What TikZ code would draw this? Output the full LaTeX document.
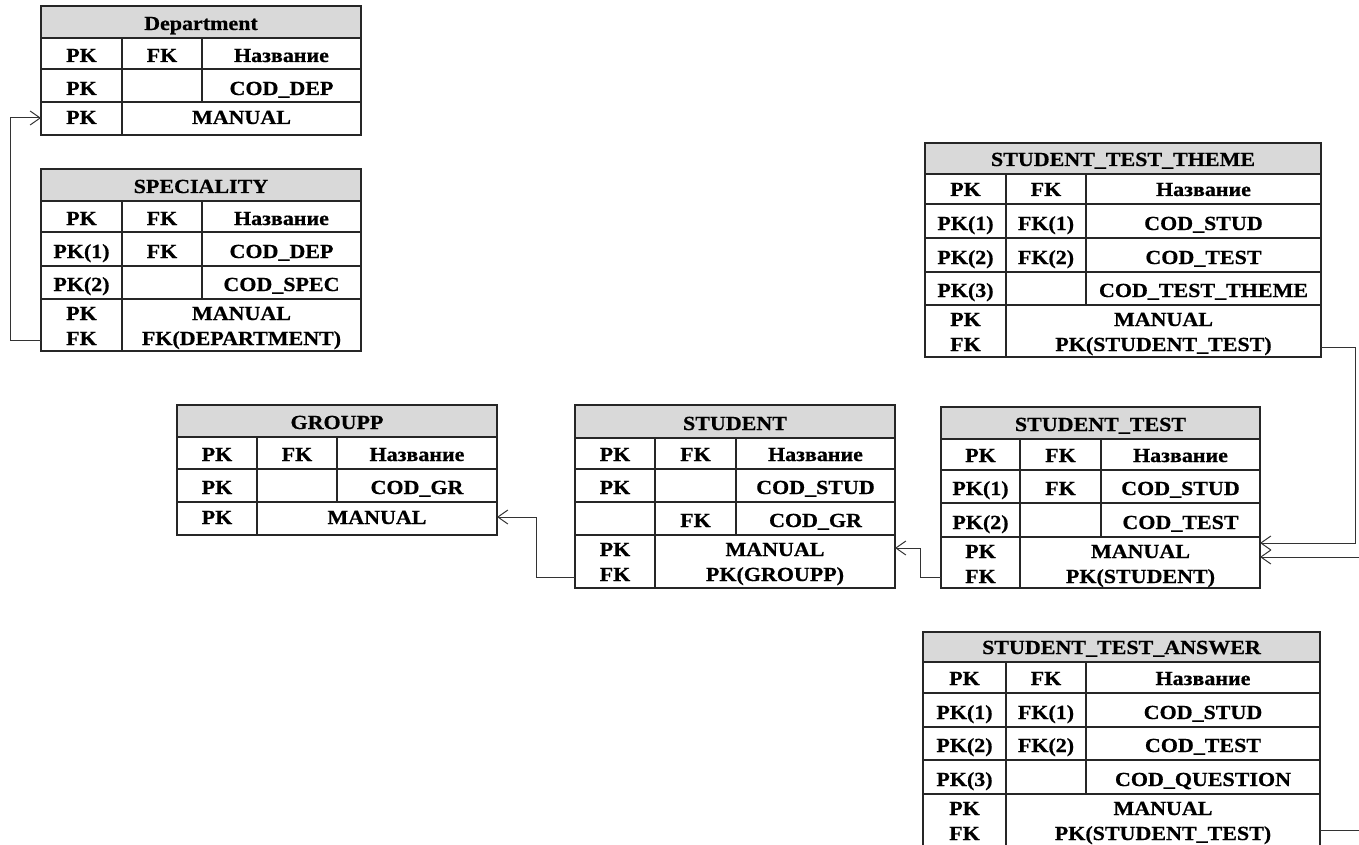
\documentclass[tikz,border=0pt]{standalone}
\usepackage{fontspec}
\setmainfont{Liberation Serif}[FakeStretch=1.1,FakeBold=0.6]
\usetikzlibrary{arrows.meta}

\begin{document}
\begin{tikzpicture}[x=1pt,y=-1pt,
    tab/.style={line width=1.3pt,draw=black!85},
    head/.style={fill=black!15},
    cell/.style={font=\fontsize{20}{24}\selectfont\bfseries,anchor=base,inner sep=0pt},
    link/.style={line width=1pt,draw=black!80},
    tip/.style={-{Straight Barb[length=10pt,width=14pt]}}]
    \useasboundingbox (0,0) rectangle (1359,845);
    \clip (0,0) rectangle (1359,845);

    % Department
    \fill[head] (41,6) rectangle (361,38);
    \draw[tab] (41,6) rectangle (361,135);
    \draw[tab] (41,38) -- (361,38) (41,69) -- (361,69) (41,102) -- (361,102);
    \draw[tab] (122,38) -- (122,135) (202,38) -- (202,102);
    \node[cell] (dep-title) at (201,30) {Department};
    \node[cell] (dep-pk) at (81.5,62) {PK};
    \node[cell] (dep-fk) at (162,62) {FK};
    \node[cell] (dep-name) at (281.5,62) {Название};
    \node[cell] (dep-pk1) at (81.5,95) {PK};
    \node[cell] (dep-cod) at (281.5,95) {COD\_DEP};
    \node[cell] (dep-pk2) at (81.5,124) {PK};
    \node[cell] (dep-man) at (241.5,124) {MANUAL};
    \coordinate (dep-in) at (41,118);

    % SPECIALITY
    \fill[head] (41,169) rectangle (361,201);
    \draw[tab] (41,169) rectangle (361,351);
    \draw[tab] (41,201) -- (361,201) (41,232) -- (361,232) (41,266) -- (361,266) (41,299) -- (361,299);
    \draw[tab] (122,201) -- (122,351) (202,201) -- (202,299);
    \node[cell] (spec-title) at (201,193) {SPECIALITY};
    \node[cell] (spec-pk) at (81.5,225) {PK};
    \node[cell] (spec-fk) at (162,225) {FK};
    \node[cell] (spec-name) at (281.5,225) {Название};
    \node[cell] (spec-pk1) at (81.5,258) {PK(1)};
    \node[cell] (spec-fk1) at (162,258) {FK};
    \node[cell] (spec-cod1) at (281.5,258) {COD\_DEP};
    \node[cell] (spec-pk2) at (81.5,291) {PK(2)};
    \node[cell] (spec-cod2) at (281.5,291) {COD\_SPEC};
    \node[cell] (spec-pk3) at (81.5,320) {PK};
    \node[cell] (spec-fk3) at (81.5,345) {FK};
    \node[cell] (spec-man) at (241.5,320) {MANUAL};
    \node[cell] (spec-ref) at (241.5,345) {FK(DEPARTMENT)};
    \coordinate (spec-out) at (41,340);

    % GROUPP
    \fill[head] (177,405) rectangle (497,437);
    \draw[tab] (177,405) rectangle (497,535);
    \draw[tab] (177,437) -- (497,437) (177,469) -- (497,469) (177,502) -- (497,502);
    \draw[tab] (257,437) -- (257,535) (337,437) -- (337,502);
    \node[cell] (gr-title) at (337,429) {GROUPP};
    \node[cell] (gr-pk) at (217,461) {PK};
    \node[cell] (gr-fk) at (297,461) {FK};
    \node[cell] (gr-name) at (417,461) {Название};
    \node[cell] (gr-pk1) at (217,494) {PK};
    \node[cell] (gr-cod) at (417,494) {COD\_GR};
    \node[cell] (gr-pk2) at (217,524) {PK};
    \node[cell] (gr-man) at (377,524) {MANUAL};
    \coordinate (gr-in) at (497,517);

    % STUDENT
    \fill[head] (575,405) rectangle (895,438);
    \draw[tab] (575,405) rectangle (895,588);
    \draw[tab] (575,438) -- (895,438) (575,469) -- (895,469) (575,502) -- (895,502) (575,535) -- (895,535);
    \draw[tab] (655,438) -- (655,588) (736,438) -- (736,535);
    \node[cell] (st-title) at (735,430) {STUDENT};
    \node[cell] (st-pk) at (615,461) {PK};
    \node[cell] (st-fk) at (695.5,461) {FK};
    \node[cell] (st-name) at (815.5,461) {Название};
    \node[cell] (st-pk1) at (615,494) {PK};
    \node[cell] (st-cod1) at (815.5,494) {COD\_STUD};
    \node[cell] (st-fk2) at (695.5,527) {FK};
    \node[cell] (st-cod2) at (815.5,527) {COD\_GR};
    \node[cell] (st-pk3) at (615,556) {PK};
    \node[cell] (st-fk3) at (615,581) {FK};
    \node[cell] (st-man) at (775,556) {MANUAL};
    \node[cell] (st-ref) at (775,581) {PK(GROUPP)};
    \coordinate (st-in) at (895,548);
    \coordinate (st-out) at (575,577);

    % STUDENT_TEST
    \fill[head] (941,407) rectangle (1260,439);
    \draw[tab] (941,407) rectangle (1260,588);
    \draw[tab] (941,439) -- (1260,439) (941,470) -- (1260,470) (941,503) -- (1260,503) (941,537) -- (1260,537);
    \draw[tab] (1020,439) -- (1020,588) (1101,439) -- (1101,537);
    \node[cell] (te-title) at (1100.5,431) {STUDENT\_TEST};
    \node[cell] (te-pk) at (980.5,462) {PK};
    \node[cell] (te-fk) at (1060.5,462) {FK};
    \node[cell] (te-name) at (1180.5,462) {Название};
    \node[cell] (te-pk1) at (980.5,495) {PK(1)};
    \node[cell] (te-fk1) at (1060.5,495) {FK};
    \node[cell] (te-cod1) at (1180.5,495) {COD\_STUD};
    \node[cell] (te-pk2) at (980.5,529) {PK(2)};
    \node[cell] (te-cod2) at (1180.5,529) {COD\_TEST};
    \node[cell] (te-pk3) at (980.5,558) {PK};
    \node[cell] (te-fk3) at (980.5,583) {FK};
    \node[cell] (te-man) at (1140.5,558) {MANUAL};
    \node[cell] (te-ref) at (1140.5,583) {PK(STUDENT)};
    \coordinate (te-out) at (941,577);
    \coordinate (te-in1) at (1260,543);
    \coordinate (te-in2) at (1260,557);

    % STUDENT_TEST_THEME
    \fill[head] (925,143) rectangle (1321,174);
    \draw[tab] (925,143) rectangle (1321,357);
    \draw[tab] (925,174) -- (1321,174) (925,204) -- (1321,204) (925,238) -- (1321,238) (925,272) -- (1321,272) (925,305) -- (1321,305);
    \draw[tab] (1006,174) -- (1006,357) (1086,174) -- (1086,305);
    \node[cell] (th-title) at (1123,166) {STUDENT\_TEST\_THEME};
    \node[cell] (th-pk) at (965.5,196) {PK};
    \node[cell] (th-fk) at (1046,196) {FK};
    \node[cell] (th-name) at (1203.5,196) {Название};
    \node[cell] (th-pk1) at (965.5,230) {PK(1)};
    \node[cell] (th-fk1) at (1046,230) {FK(1)};
    \node[cell] (th-cod1) at (1203.5,230) {COD\_STUD};
    \node[cell] (th-pk2) at (965.5,264) {PK(2)};
    \node[cell] (th-fk2) at (1046,264) {FK(2)};
    \node[cell] (th-cod2) at (1203.5,264) {COD\_TEST};
    \node[cell] (th-pk3) at (965.5,297) {PK(3)};
    \node[cell] (th-cod3) at (1203.5,297) {COD\_TEST\_THEME};
    \node[cell] (th-pk4) at (965.5,326) {PK};
    \node[cell] (th-fk4) at (965.5,351) {FK};
    \node[cell] (th-man) at (1163.5,326) {MANUAL};
    \node[cell] (th-ref) at (1163.5,351) {PK(STUDENT\_TEST)};
    \coordinate (th-out) at (1321,347);

    % STUDENT_TEST_ANSWER
    \fill[head] (923,632) rectangle (1320,662);
    \draw[tab] (923,632) rectangle (1320,847);
    \draw[tab] (923,662) -- (1320,662) (923,693) -- (1320,693) (923,727) -- (1320,727) (923,760) -- (1320,760) (923,794) -- (1320,794);
    \draw[tab] (1006,662) -- (1006,847) (1086,662) -- (1086,794);
    \node[cell] (an-title) at (1121.5,654) {STUDENT\_TEST\_ANSWER};
    \node[cell] (an-pk) at (964.5,685) {PK};
    \node[cell] (an-fk) at (1046,685) {FK};
    \node[cell] (an-name) at (1203,685) {Название};
    \node[cell] (an-pk1) at (964.5,719) {PK(1)};
    \node[cell] (an-fk1) at (1046,719) {FK(1)};
    \node[cell] (an-cod1) at (1203,719) {COD\_STUD};
    \node[cell] (an-pk2) at (964.5,752) {PK(2)};
    \node[cell] (an-fk2) at (1046,752) {FK(2)};
    \node[cell] (an-cod2) at (1203,752) {COD\_TEST};
    \node[cell] (an-pk3) at (964.5,786) {PK(3)};
    \node[cell] (an-cod3) at (1203,786) {COD\_QUESTION};
    \node[cell] (an-pk4) at (964.5,815) {PK};
    \node[cell] (an-fk4) at (964.5,840) {FK};
    \node[cell] (an-man) at (1163,815) {MANUAL};
    \node[cell] (an-ref) at (1163,840) {PK(STUDENT\_TEST)};
    \coordinate (an-out) at (1320,830);

    % links
    \draw[link,tip] (spec-out) -- ++(-31,0) |- (dep-in);
    \draw[link,tip] (st-out) -- ++(-39,0) |- (gr-in);
    \draw[link,tip] (te-out) -- ++(-21,0) |- (st-in);
    \draw[link,tip] (th-out) -- ++(34,0) |- (te-in1);
    \draw[link,tip] (an-out) -- ++(60,0) |- (te-in2);
\end{tikzpicture}
\end{document}
